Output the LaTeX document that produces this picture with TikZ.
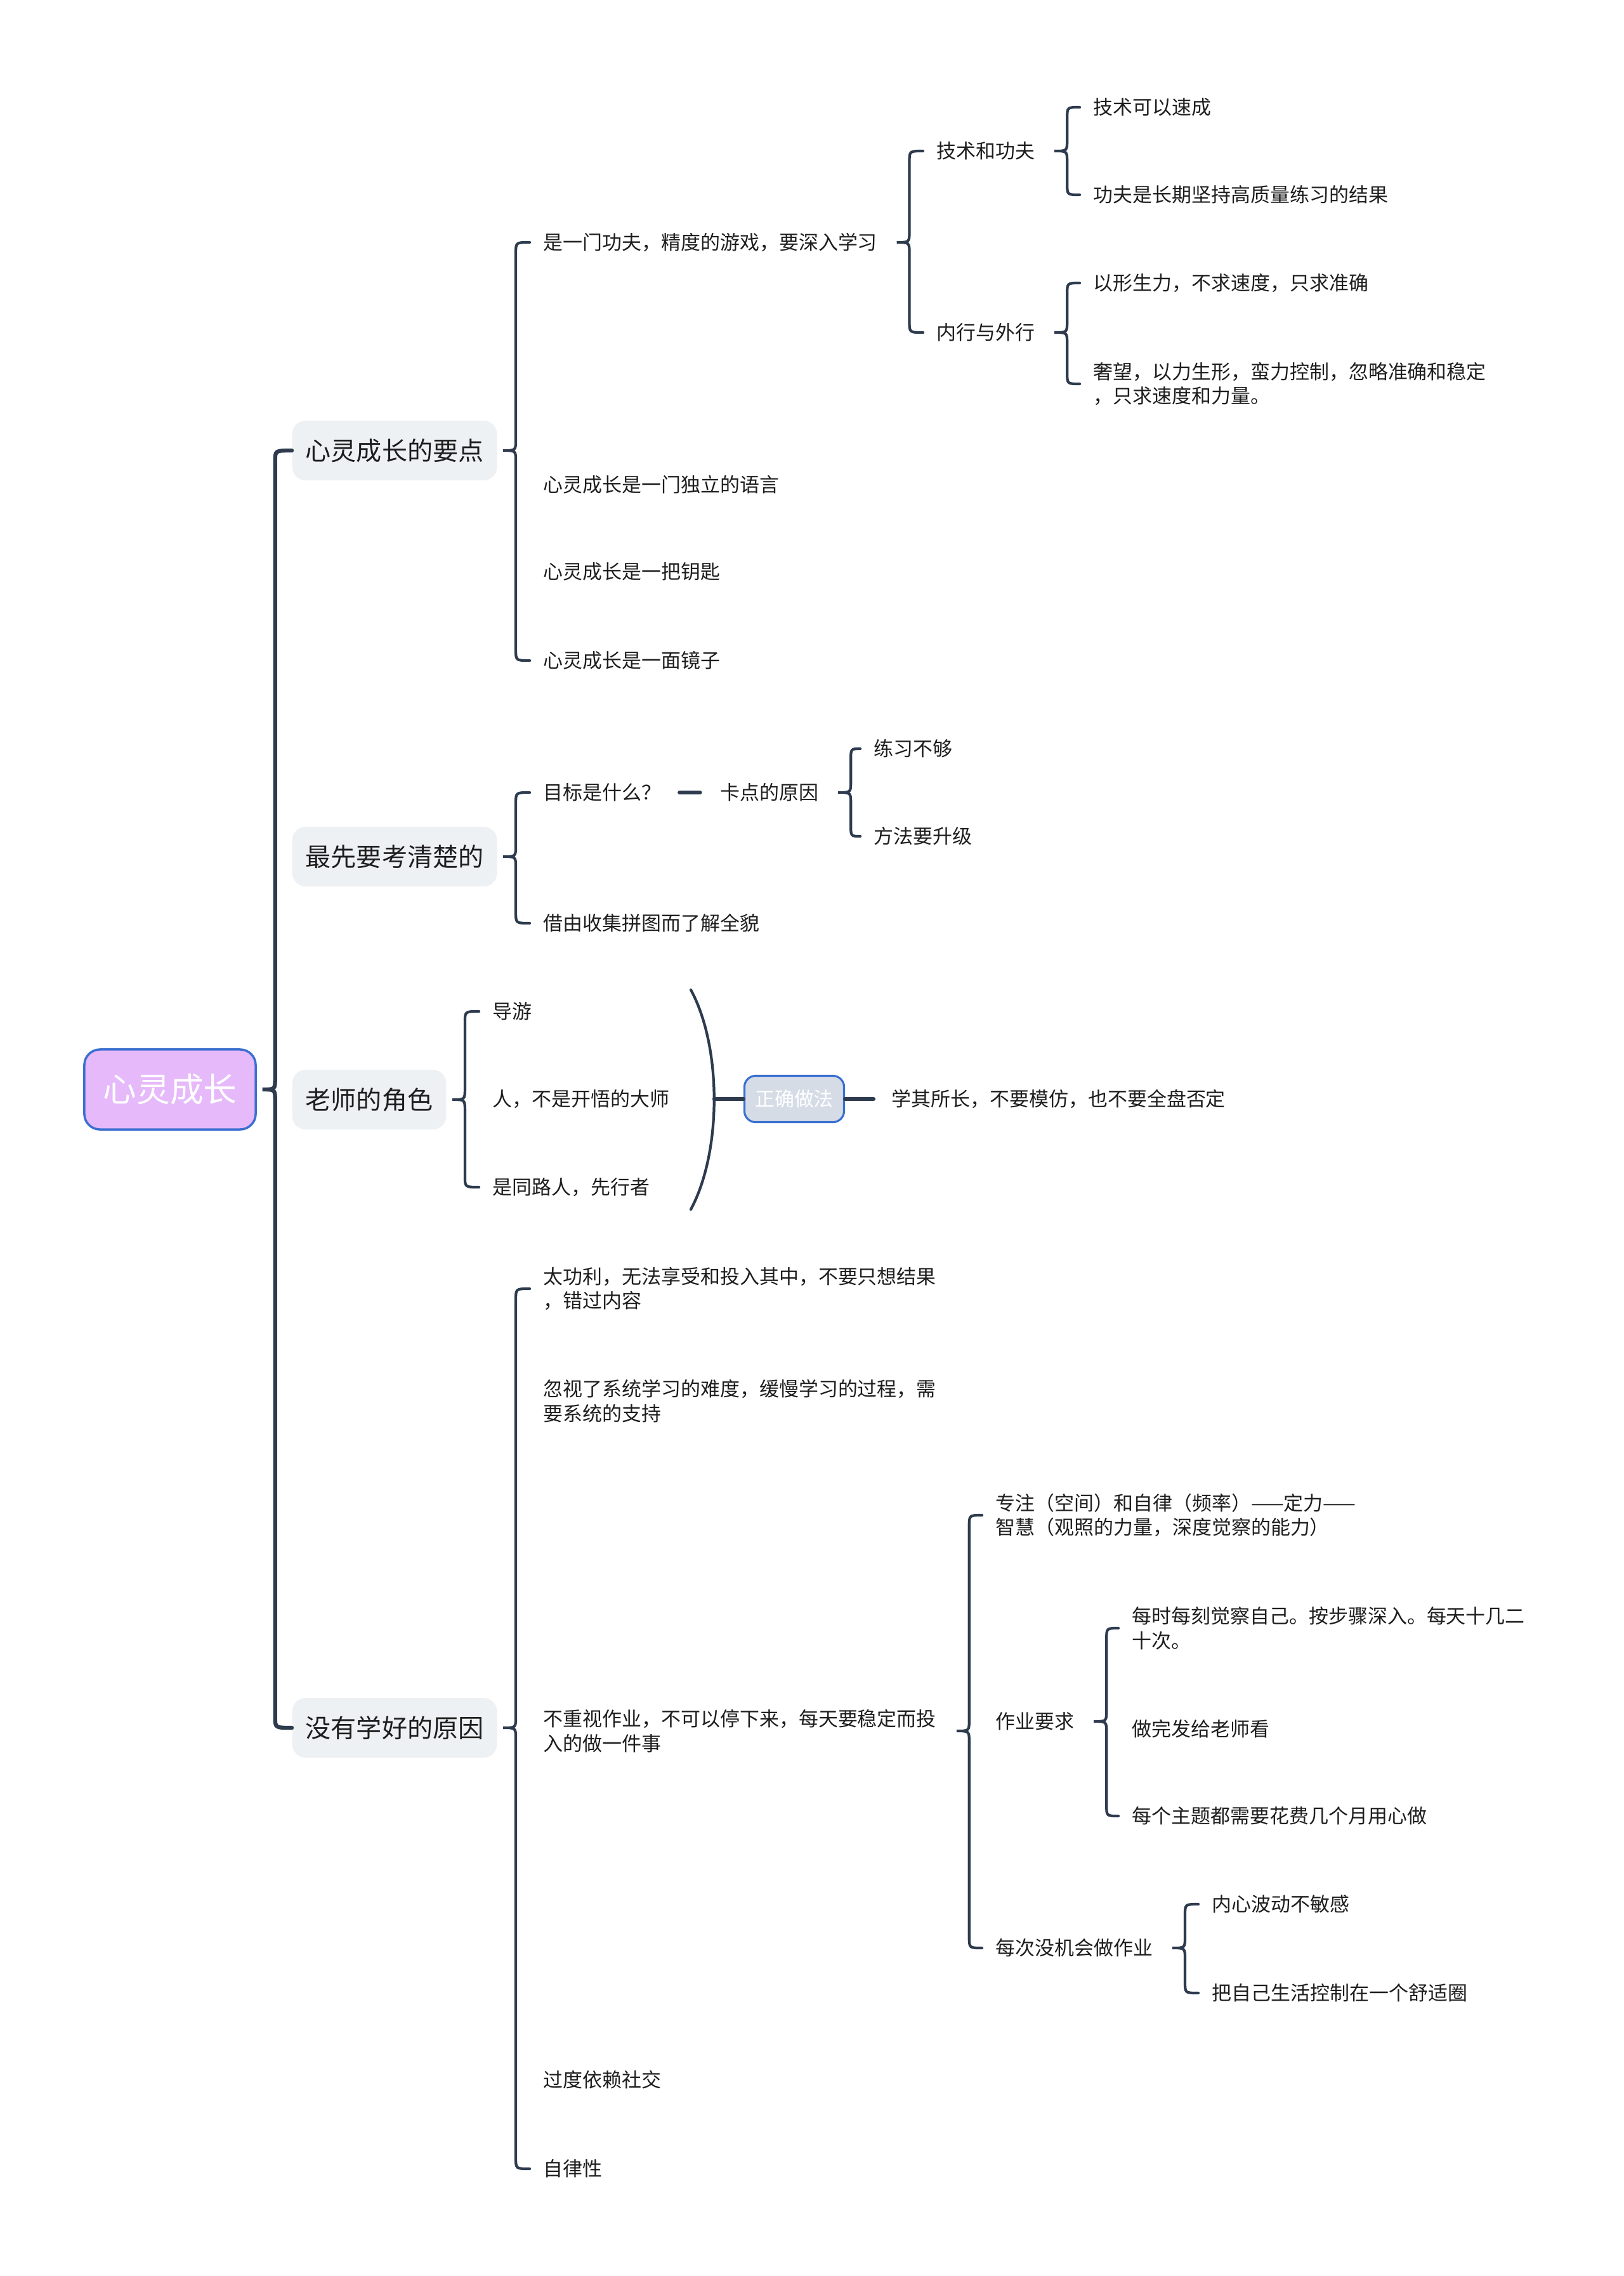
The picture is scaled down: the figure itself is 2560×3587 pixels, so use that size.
\documentclass[tikz,border=0pt]{standalone}
\usepackage{fontspec}
\setmainfont{Noto Sans CJK SC}
\usepackage{xcolor}
\usepackage{tikz}
\usetikzlibrary{calc,positioning}

\definecolor{linec}{HTML}{2E3B4E}
\definecolor{inkc}{HTML}{1E1E1E}
\definecolor{rootfill}{HTML}{E6B9FA}
\definecolor{rootblue}{HTML}{3A6FD0}
\definecolor{topicgray}{HTML}{EEF1F4}
\definecolor{notefill}{HTML}{D5DCE6}

% brace from a parent to its first and last child
\newcommand\brc[4][]{%
  \draw[brc,#1] let \p1=(#2.east), \p2=(#3.west), \p3=(#4.west) in
    (\p2) .. controls (\x1+8.2pt,\y2) .. (\x1+8.2pt,\y2-5pt)
    -- (\x1+8.2pt,\y1+5pt) .. controls (\x1+8.2pt,\y1) .. (\x1+2.5pt,\y1)
    .. controls (\x1+8.2pt,\y1) .. (\x1+8.2pt,\y1-5pt)
    -- (\x1+8.2pt,\y3+5pt) .. controls (\x1+8.2pt,\y3) .. (\p3);
}

\begin{document}
\begin{tikzpicture}[
  x=0.01cm, y=-0.01cm,
  root/.style={draw=rootblue, fill=rootfill, line width=1pt, rounded corners=7pt, text=white, font=\fontsize{15pt}{18pt}\selectfont, minimum width=2.7cm, minimum height=1.26cm},
  topic/.style={fill=topicgray, rounded corners=6pt, text=inkc, font=\fontsize{11.4pt}{14pt}\selectfont, inner xsep=6pt, minimum height=0.94cm, anchor=west},
  leaf/.style={text=inkc, font=\fontsize{8.8pt}{11pt}\selectfont, inner xsep=6pt, inner ysep=2pt, align=left, anchor=west},
  note/.style={draw=rootblue, fill=notefill, line width=0.9pt, rounded corners=5pt, text=white, font=\fontsize{8.8pt}{11pt}\selectfont, minimum width=1.57cm, minimum height=0.73cm},
  brc/.style={draw=linec, line width=1.2pt, line cap=round},
  trunk/.style={line width=1.8pt}
]
  \fill[white] (0,0) rectangle (2560,3587);
  \useasboundingbox (0,0) rectangle (2560,3587);

  \node[root] (r) at (268,1717) {心灵成长};

  \node[topic] (k1) at (460,710) {心灵成长的要点};
  \node[topic] (k2) at (460,1350) {最先要考清楚的};
  \node[topic] (k3) at (460,1733) {老师的角色};
  \node[topic] (k4) at (460,2723) {没有学好的原因};

  \node[leaf] (a1) at (835,382) {是一门功夫，精度的游戏，要深入学习};
  \node[leaf] (a2) at (835,764) {心灵成长是一门独立的语言};
  \node[leaf] (a3) at (835,901) {心灵成长是一把钥匙};
  \node[leaf] (a4) at (835,1041) {心灵成长是一面镜子};
  \node[leaf] (b1) at (1455,238) {技术和功夫};
  \node[leaf] (b2) at (1455,524) {内行与外行};
  \node[leaf] (c1) at (1702,169) {技术可以速成};
  \node[leaf] (c2) at (1702,307) {功夫是长期坚持高质量练习的结果};
  \node[leaf] (c3) at (1702,446) {以形生力，不求速度，只求准确};
  \node[leaf] (c4) at (1702,605) {奢望，以力生形，蛮力控制，忽略准确和稳定\\，只求速度和力量。};

  \node[leaf] (d1) at (835,1249) {目标是什么？};
  \node[leaf] (d3) at (1114,1249) {卡点的原因};
  \node[leaf] (e1) at (1356,1180) {练习不够};
  \node[leaf] (e2) at (1356,1318) {方法要升级};
  \node[leaf] (d2) at (835,1455) {借由收集拼图而了解全貌};

  \node[leaf] (f1) at (755,1594) {导游};
  \node[leaf] (f2) at (755,1732) {人，不是开悟的大师};
  \node[leaf] (f3) at (755,1871) {是同路人，先行者};
  \coordinate (sumtop) at (1089,1560);
  \coordinate (sumbot) at (1089,1906);
  \coordinate (sumtip) at (1126,1732);
  \node[note] (way) at (1252,1732) {正确做法};
  \node[leaf] (learn) at (1384,1732) {学其所长，不要模仿，也不要全盘否定};

  \node[leaf] (g1) at (835,2031) {太功利，无法享受和投入其中，不要只想结果\\，错过内容};
  \node[leaf] (g2) at (835,2208) {忽视了系统学习的难度，缓慢学习的过程，需\\要系统的支持};
  \node[leaf, text width=6.2cm] (g3) at (835,2728) {不重视作业，不可以停下来，每天要稳定而投\\入的做一件事};
  \node[leaf] (g4) at (835,3278) {过度依赖社交};
  \node[leaf] (g5) at (835,3418) {自律性};
  \node[leaf] (h1) at (1548,2388) {专注（空间）和自律（频率）——定力——\\智慧（观照的力量，深度觉察的能力）};
  \node[leaf] (h2) at (1548,2713) {作业要求};
  \node[leaf] (h3) at (1548,3070) {每次没机会做作业};
  \node[leaf] (i1) at (1763,2566) {每时每刻觉察自己。按步骤深入。每天十几二\\十次。};
  \node[leaf] (i2) at (1763,2725) {做完发给老师看};
  \node[leaf] (i3) at (1763,2862) {每个主题都需要花费几个月用心做};
  \node[leaf] (j1) at (1889,3001) {内心波动不敏感};
  \node[leaf] (j2) at (1889,3141) {把自己生活控制在一个舒适圈};

  \brc[trunk]{r}{k1}{k4}
  \brc{k1}{a1}{a4}
  \brc{a1}{b1}{b2}
  \brc{b1}{c1}{c2}
  \brc{b2}{c3}{c4}
  \brc{k2}{d1}{d2}
  \draw[brc, trunk, shorten <=2pt, shorten >=3pt] (d1) -- (d3);
  \brc{d3}{e1}{e2}
  \brc{k3}{f1}{f3}
  \draw[brc] (sumtop) .. controls (1138,1650) and (1138,1815) .. (sumbot);
  \draw[brc, trunk] (sumtip) -- (way);
  \draw[brc, trunk, shorten >=2pt] (way) -- (learn);
  \brc{k4}{g1}{g5}
  \brc{g3}{h1}{h3}
  \brc{h2}{i1}{i3}
  \brc{h3}{j1}{j2}
\end{tikzpicture}
\end{document}
